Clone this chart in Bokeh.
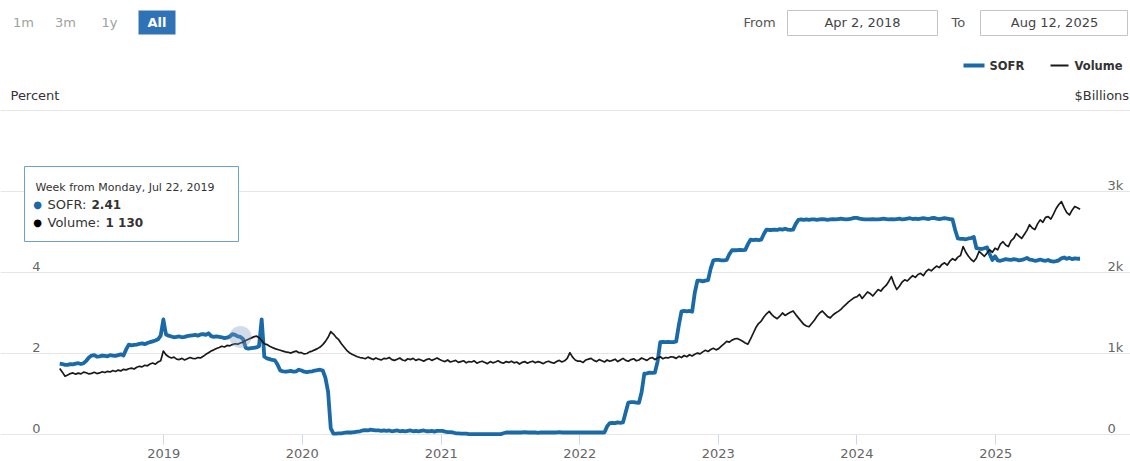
import pandas as pd
from bokeh.plotting import figure
from bokeh.models import (Range1d, LinearAxis, FixedTicker, DatetimeTickFormatter, Grid,
                          Label, BoxAnnotation)
from bokeh.embed import file_html
from bokeh.resources import INLINE

# ---------------- data ----------------
week_start = "2018-04-02"
n_weeks = 385
dates = pd.date_range(week_start, periods=n_weeks, freq="7D")

sofr_2018 = [1.75, 1.74, 1.72, 1.72, 1.74, 1.73, 1.75, 1.76, 1.74, 1.76,
             1.82, 1.90, 1.95, 1.96, 1.92, 1.93, 1.95, 1.94, 1.93, 1.96,
             1.95, 1.94, 1.96, 1.98, 1.95, 2.10, 2.22, 2.20, 2.21, 2.22,
             2.24, 2.25, 2.23, 2.26, 2.28, 2.30, 2.32, 2.35, 2.44]
sofr_2019 = [2.84, 2.47, 2.44, 2.42, 2.40, 2.41, 2.42, 2.40, 2.41, 2.43,
             2.44, 2.45, 2.46, 2.44, 2.47, 2.48, 2.46, 2.50, 2.43, 2.41,
             2.42, 2.41, 2.40, 2.38, 2.39, 2.42, 2.48, 2.46, 2.42, 2.41,
             2.36, 2.14, 2.12, 2.13, 2.14, 2.15, 2.18, 2.84, 1.92, 1.88,
             1.86, 1.84, 1.83, 1.72, 1.58, 1.56, 1.55, 1.56, 1.57, 1.55,
             1.56, 1.60]
sofr_2020 = [1.58, 1.55, 1.54, 1.55, 1.56, 1.58, 1.59, 1.60, 1.58, 1.40,
             1.05, 0.15, 0.02, 0.02, 0.03, 0.03, 0.04, 0.05, 0.05, 0.05,
             0.06, 0.07, 0.08, 0.10, 0.11, 0.10, 0.12, 0.11, 0.10, 0.10,
             0.09, 0.10, 0.09, 0.10, 0.08, 0.09, 0.10, 0.08, 0.09, 0.08,
             0.09, 0.10, 0.08, 0.09, 0.08, 0.09, 0.10, 0.08, 0.08, 0.09,
             0.07, 0.09]
sofr_2021 = [0.09, 0.09, 0.07, 0.06, 0.06, 0.05, 0.03, 0.03, 0.02, 0.02,
             0.02, 0.01, 0.01, 0.01, 0.01, 0.01, 0.01, 0.01, 0.01, 0.01,
             0.01, 0.01, 0.01, 0.01, 0.03, 0.05, 0.05, 0.05, 0.05, 0.05,
             0.05, 0.05, 0.06, 0.05, 0.05, 0.05, 0.05, 0.04, 0.05, 0.05,
             0.05, 0.05, 0.05, 0.05, 0.05, 0.06, 0.05, 0.05, 0.05, 0.05,
             0.05, 0.05, 0.05]
sofr_2022 = [0.05, 0.05, 0.05, 0.05, 0.05, 0.05, 0.05, 0.05, 0.05, 0.05,
             0.20, 0.28, 0.29, 0.28, 0.30, 0.29, 0.30, 0.55, 0.79, 0.80,
             0.80, 0.79, 0.78, 1.05, 1.50, 1.51, 1.53, 1.52, 1.53, 1.80,
             2.28, 2.29, 2.28, 2.29, 2.28, 2.28, 2.30, 2.70, 3.04, 3.05,
             3.04, 3.05, 3.03, 3.50, 3.80, 3.80, 3.78, 3.80, 3.81, 4.10,
             4.30, 4.31]
sofr_2023 = [4.31, 4.30, 4.30, 4.31, 4.45, 4.55, 4.55, 4.55, 4.56, 4.55,
             4.56, 4.70, 4.81, 4.80, 4.81, 4.80, 4.81, 4.95, 5.06, 5.05,
             5.05, 5.06, 5.05, 5.07, 5.06, 5.08, 5.06, 5.05, 5.06, 5.20,
             5.30, 5.31, 5.30, 5.31, 5.30, 5.31, 5.31, 5.30, 5.31, 5.32,
             5.31, 5.30, 5.31, 5.32, 5.31, 5.32, 5.33, 5.32, 5.31, 5.32,
             5.33, 5.35]
sofr_2024 = [5.35, 5.33, 5.32, 5.31, 5.31, 5.31, 5.32, 5.31, 5.31, 5.32,
             5.33, 5.32, 5.31, 5.32, 5.31, 5.32, 5.33, 5.31, 5.32, 5.33,
             5.34, 5.32, 5.33, 5.32, 5.33, 5.34, 5.33, 5.32, 5.34, 5.35,
             5.33, 5.32, 5.33, 5.34, 5.33, 5.32, 5.31, 5.05, 4.84, 4.83,
             4.83, 4.82, 4.84, 4.85, 4.88, 4.60, 4.59, 4.58, 4.60, 4.62,
             4.45, 4.31]
sofr_2025 = [4.40, 4.30, 4.29, 4.31, 4.33, 4.32, 4.31, 4.33, 4.32, 4.30,
             4.31, 4.33, 4.36, 4.32, 4.31, 4.29, 4.30, 4.32, 4.30, 4.29,
             4.31, 4.28, 4.27, 4.28, 4.30, 4.35, 4.37, 4.34, 4.36, 4.33,
             4.35, 4.34, 4.34]

vol_2018 = [815, 770, 720, 735, 752, 760, 745, 758, 748, 770,
            762, 748, 755, 768, 752, 760, 775, 765, 780, 772,
            790, 778, 795, 785, 805, 798, 812, 820, 808, 830,
            842, 835, 855, 848, 870, 882, 868, 895, 910]
vol_2019 = [1030, 985, 960, 945, 955, 930, 925, 940, 920, 935, 950, 940,
            935, 950, 945, 965, 990, 1010, 1030, 1045, 1062, 1075, 1090, 1080,
            1100, 1095, 1110, 1120, 1115, 1130, 1140, 1160, 1175, 1190, 1205, 1215,
            1195, 1160, 1120, 1110, 1090, 1075, 1060, 1050, 1040, 1030, 1020, 1015,
            1005, 1020, 1030, 1010]
vol_2020 = [1010, 995, 1000, 1020, 1030, 1045, 1060, 1080, 1110, 1150, 1200, 1270,
            1240, 1200, 1170, 1120, 1080, 1040, 1010, 990, 975, 960, 950, 945,
            935, 955, 940, 925, 945, 930, 920, 940, 935, 950, 925, 915,
            930, 945, 920, 910, 935, 925, 940, 915, 930, 920, 905, 925,
            935, 915, 930, 945]
vol_2021 = [925, 910, 900, 920, 895, 905, 915, 890, 900, 910, 885, 900,
            895, 910, 880, 895, 905, 890, 875, 900, 885, 895, 910, 890,
            880, 900, 890, 905, 885, 895, 870, 890, 900, 880, 895, 905,
            885, 900, 890, 875, 895, 905, 890, 880, 900, 915, 895, 910,
            940, 1010, 955, 920, 905]
vol_2022 = [905, 890, 920, 930, 940, 915, 900, 925, 910, 895, 920, 905,
            915, 930, 900, 920, 940, 915, 905, 925, 935, 910, 920, 945,
            930, 915, 940, 950, 925, 945, 960, 935, 950, 945, 960, 955,
            940, 965, 950, 975, 960, 985, 970, 990, 1005, 995, 1020, 1040,
            1025, 1050, 1065, 1045]
vol_2023 = [1060, 1090, 1120, 1150, 1140, 1165, 1180, 1185, 1170, 1150, 1130, 1115,
            1180, 1250, 1320, 1370, 1400, 1450, 1490, 1520, 1480, 1450, 1430, 1460,
            1500, 1470, 1490, 1510, 1525, 1480, 1440, 1400, 1360, 1340, 1330, 1370,
            1410, 1460, 1500, 1525, 1490, 1455, 1440, 1475, 1500, 1520, 1545, 1580,
            1610, 1640, 1665, 1690]
vol_2024 = [1700, 1730, 1680, 1720, 1760, 1740, 1710, 1750, 1790, 1770, 1810, 1840,
            1890, 1950, 1860, 1790, 1830, 1880, 1910, 1895, 1930, 1960, 1940, 1975,
            1990, 1960, 2010, 2040, 2020, 2050, 2080, 2060, 2100, 2120, 2090, 2140,
            2170, 2150, 2190, 2210, 2320, 2250, 2200, 2160, 2135, 2180, 2260, 2230,
            2200, 2240, 2280, 2250]
vol_2025 = [2300, 2280, 2350, 2380, 2340, 2320, 2390, 2420, 2480, 2450, 2420, 2470,
            2520, 2590, 2550, 2530, 2600, 2650, 2620, 2680, 2690, 2660, 2720, 2790,
            2840, 2875, 2800, 2740, 2710, 2770, 2815, 2800, 2780]

sofr = sofr_2018 + sofr_2019 + sofr_2020 + sofr_2021 + sofr_2022 + sofr_2023 + sofr_2024 + sofr_2025
volume = vol_2018 + vol_2019 + vol_2020 + vol_2021 + vol_2022 + vol_2023 + vol_2024 + vol_2025

year_ticks = [2019, 2020, 2021, 2022, 2023, 2024, 2025]
pct_ticks = [0, 2, 4]
pct_grid = [0, 2, 4, 6, 8]
pct_max = 8
vol_max = 4000
vol_ticks = [0, 1000, 2000, 3000]
vol_tick_labels = ["0", "1k", "2k", "3k"]
range_buttons = ["1m", "3m", "1y", "All"]
from_text, to_text = "Apr 2, 2018", "Aug 12, 2025"
tooltip_date = "2019-07-22"
series_names = ["SOFR", "Volume"]
left_title, right_title = "Percent", "$Billions"
plot_start, plot_end = pd.Timestamp("2018-02-13"), pd.Timestamp("2025-10-17")

# ---------------- layout (pixels) ----------------
FIG_W, FIG_H = 1130, 461
FRAME_H = FIG_H                # frame spans the whole figure; axes sit at fixed locations
PLOT_L, PLOT_R = 41, 1105      # visible plot area inside the frame
PLOT_T, PLOT_B = 110, 434
FONT = "DejaVu Sans"
SOFR_C = "#1a6aa8"
VOL_C = "#1a1a1a"


def ms(t):
    return t.value / 1e6


ppm = (PLOT_R - PLOT_L) / (ms(plot_end) - ms(plot_start))
x_start = ms(plot_start) - PLOT_L / ppm
x_end = ms(plot_end) + (FIG_W - PLOT_R) / ppm
ppu = (PLOT_B - PLOT_T) / pct_max          # pixels per percent
y_start = -(FRAME_H - PLOT_B) / ppu
y_end = PLOT_B / ppu
vppu = (PLOT_B - PLOT_T) / vol_max

p = figure(width=FIG_W, height=FIG_H, x_axis_type="datetime", y_axis_location=None,
           x_range=Range1d(x_start, x_end), y_range=Range1d(y_start, y_end),
           output_backend="svg", toolbar_location=None, tools="",
           min_border_left=0, min_border_right=0, min_border_top=0, min_border_bottom=0)
p.outline_line_color = None
p.background_fill_color = "white"
p.border_fill_color = "white"
for g in p.grid:
    g.visible = False

lab_shift = 6.5
p.extra_y_ranges = {
    "vol": Range1d(-(FRAME_H - PLOT_B) / vppu, PLOT_B / vppu),
    "pctlab": Range1d(y_start - lab_shift / ppu, y_end - lab_shift / ppu),
    "vollab": Range1d(-(FRAME_H - PLOT_B + lab_shift) / vppu, (PLOT_B - lab_shift) / vppu),
}

bounds = (ms(plot_start), ms(plot_end))
p.add_layout(Grid(dimension=1, ticker=FixedTicker(ticks=pct_grid), bounds=bounds,
                  grid_line_color="#e6e6e6", grid_line_width=1))

axis_style = dict(axis_line_color=None, major_tick_line_color=None, minor_tick_line_color=None,
                  major_tick_out=0, major_tick_in=0, minor_tick_out=0, minor_tick_in=0,
                  major_label_text_color="#666666", major_label_text_font=FONT,
                  major_label_text_font_size="13px")
left_axis = LinearAxis(y_range_name="pctlab", ticker=FixedTicker(ticks=pct_ticks),
                       fixed_location=ms(plot_start), major_label_standoff=1, **axis_style)
p.add_layout(left_axis, "left")
right_axis = LinearAxis(y_range_name="vollab", ticker=FixedTicker(ticks=vol_ticks),
                        fixed_location=ms(plot_end), major_label_standoff=2,
                        major_label_overrides={t: s for t, s in zip(vol_ticks, vol_tick_labels)},
                        **axis_style)
p.add_layout(right_axis, "right")

xa = p.xaxis[0]
xa.ticker = FixedTicker(ticks=[pd.Timestamp(f"{y}-01-01").value // 10**6 for y in year_ticks])
xa.formatter = DatetimeTickFormatter(years="%Y", months="%Y", days="%Y")
xa.fixed_location = 0
xa.bounds = bounds
xa.level = "underlay"
xa.axis_line_color = "#ccd6eb"
xa.major_tick_line_color = "#ccd6eb"
xa.major_tick_out = 10
xa.major_tick_in = 0
xa.minor_tick_out = 0
xa.minor_tick_line_color = None
xa.major_label_standoff = 4
xa.major_label_text_color = "#666666"
xa.major_label_text_font = FONT
xa.major_label_text_font_size = "13px"

# series
p.line(dates, sofr, line_color=SOFR_C, line_width=3.8, line_join="round")
p.line(dates, volume, y_range_name="vol", line_color=VOL_C, line_width=1.7, line_join="round")

# hover halo at the tooltip point
hi = dates.get_loc(pd.Timestamp(tooltip_date))
p.scatter(x=[dates[hi]], y=[sofr[hi]], size=22, fill_color="#7f9cbc", fill_alpha=0.35, line_color=None)


# ---------------- screen-space decorations (frame covers the figure) ----------------
def sx(px):
    return px


def sy(py):
    return FRAME_H - py


def txt(text, px, py, size="13px", color="#333333", align="left", bold=False):
    p.add_layout(Label(x=sx(px), y=sy(py), x_units="screen", y_units="screen", text=text,
                       text_font=FONT, text_font_size=size, text_color=color, text_align=align,
                       text_baseline="middle", text_font_style="bold" if bold else "normal",
                       level="overlay"))


def box(x0, y0, x1, y1, fill=None, line=None, lw=1, alpha=1.0):
    p.add_layout(BoxAnnotation(left=sx(x0), right=sx(x1), top=sy(y0), bottom=sy(y1),
                               left_units="screen", right_units="screen",
                               top_units="screen", bottom_units="screen",
                               fill_color=fill if fill else "white", fill_alpha=alpha if fill else 0.0,
                               line_color=line if line else "white", line_width=lw,
                               line_alpha=1.0 if line else 0.0, level="overlay"))


# range selector
for name, cx in zip(range_buttons[:3], [23, 65, 109]):
    txt(name, cx, 22, color="#a0a0a0", align="center")
box(138, 10, 175, 34, fill="#2f72b6")
txt(range_buttons[3], 156.5, 22, color="white", align="center", bold=True)

# date inputs
txt("From", 743, 22, color="#555555")
box(787, 10, 937, 35, line="#c4c4c4")
txt(from_text, 862, 22, color="#444444", align="center")
txt("To", 951, 22, color="#555555")
box(980, 10, 1127, 35, line="#c4c4c4")
txt(to_text, 1054, 22, color="#444444", align="center")

# legend
box(963, 63, 984, 67, fill=SOFR_C)
txt(series_names[0], 989, 65, size="11.5px", bold=True)
box(1050, 64, 1068, 66, fill=VOL_C)
txt(series_names[1], 1074, 65, size="11.5px", bold=True)

# axis titles
txt(left_title, 10, 95, color="#333333")
txt(right_title, 1074, 95, color="#333333")

# tooltip
box(24, 166, 238, 241, fill="white", line="#6aa3cf", lw=1, alpha=0.96)
d = dates[hi]
txt(f"Week from Monday, {d.strftime('%b')} {d.day}, {d.year}", 35, 187, size="11px")
txt("\u25CF", 37, 204, size="10px", color=SOFR_C, align="center")
txt(f"{series_names[0]}:", 47, 204)
txt(f"{sofr[hi]:.2f}", 91, 204, size="12px", bold=True)
txt("\u25CF", 37, 222, size="10px", color="black", align="center")
txt(f"{series_names[1]}:", 47, 222)
txt(f"{volume[hi]:,}".replace(",", " "), 105, 222, size="12px", bold=True)

open("out.html", "w").write(file_html(p, INLINE))
